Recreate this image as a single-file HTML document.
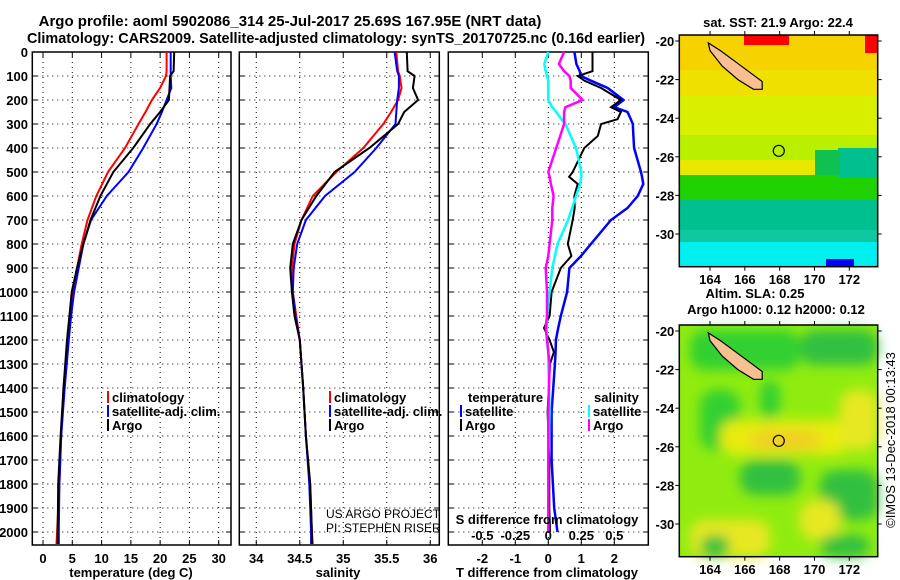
<!DOCTYPE html>
<html><head><meta charset="utf-8"><style>
html,body{margin:0;padding:0;background:#fff;}
svg{display:block;font-family:"Liberation Sans",Arial,sans-serif;}
.b{font-weight:bold;}
</style></head><body>
<svg id="fig" width="900" height="580" viewBox="0 0 900 580" xmlns="http://www.w3.org/2000/svg">
<text x="290" y="26" text-anchor="middle" class="b" font-size="15">Argo profile: aoml 5902086_314 25-Jul-2017 25.69S 167.95E (NRT data)</text>
<text x="336" y="43" text-anchor="middle" class="b" font-size="15" textLength="618" lengthAdjust="spacingAndGlyphs">Climatology: CARS2009. Satellite-adjusted climatology: synTS_20170725.nc (0.16d earlier)</text>
<g id="panels"></g>
<g id="maps"></g>
<text transform="translate(895,440) rotate(-90)" text-anchor="middle" font-size="13">©IMOS 13-Dec-2018 00:13:43</text>
</svg>
<script>
// ---- data ----
const depthT = [0,80,100,150,200,250,300,400,500,600,700,800,900,1000,1100,1200,1400,1600,1800,2000,2050];
const tempClim = [21.1,21.1,21.0,20.0,18.6,17.5,16.3,14.0,11.1,9.1,7.6,6.6,5.8,5.1,4.6,4.2,3.5,3.1,2.8,2.4,2.3];
const tempSat  = [21.8,21.8,21.8,21.9,21.1,20.3,19.4,17.1,14.6,10.9,8.2,6.9,6.1,5.3,4.8,4.4,3.7,3.1,2.8,2.7,2.7];
const tempArgo = [22.4,22.3,21.7,21.6,21.5,20.0,18.3,15.4,12.0,9.8,8.1,6.9,5.8,4.9,4.5,4.1,3.5,3.0,2.6,2.5,2.5];
const salClim = [35.61,35.63,35.65,35.67,35.63,35.55,35.46,35.23,34.92,34.65,34.52,34.44,34.41,34.42,34.46,34.50,34.54,34.57,34.62,34.64,34.65];
const salSat  = [35.59,35.62,35.64,35.64,35.62,35.61,35.60,35.38,35.13,34.79,34.57,34.47,34.43,34.42,34.45,34.50,34.54,34.57,34.61,34.63,34.63];
const salArgo = [35.73,35.74,35.82,35.80,35.86,35.70,35.63,35.30,34.90,34.69,34.52,34.42,34.39,34.41,34.44,34.50,34.54,34.57,34.62,34.64,34.64];
const depthD = [0,50,80,100,120,150,200,230,250,280,300,350,400,500,520,550,600,650,700,800,850,900,1000,1100,1150,1200,1250,1300,1500,1700,1900,2000];
const dTsat  = [0.79,0.85,0.95,0.99,1.3,1.8,2.28,2.0,2.4,2.5,2.56,2.58,2.6,2.81,2.84,2.88,2.71,2.4,1.9,1.29,0.99,0.64,0.57,0.38,0.3,0.23,0.22,0.2,0.1,0.1,0.18,0.28];
const dTargo = [1.34,1.34,1.34,0.89,1.1,1.6,2.2,1.9,2.2,2.1,1.6,1.5,1.09,0.74,0.63,0.89,0.79,0.8,0.74,0.59,0.7,0.38,0.1,0.04,-0.13,0.04,0.17,0.05,-0.02,0.03,0.03,0.05];
const dSsat  = [0.0,-0.03,-0.02,-0.01,0.0,0.0,0.0,0.03,0.06,0.1,0.13,0.17,0.21,0.25,0.25,0.24,0.21,0.18,0.15,0.07,0.05,0.03,0.01,-0.01,-0.01,-0.01,0.0,0.0,0.01,0.0,0.0,0.0];
const dSargo = [0.12,0.08,0.12,0.16,0.17,0.17,0.26,0.13,0.12,0.12,0.12,0.09,0.06,0.0,0.01,0.02,0.04,0.03,0.03,0.01,0.0,-0.02,-0.01,-0.01,-0.02,-0.01,0.0,0.01,0.0,0.0,0.0,0.0];
const depthTicks = [0,100,200,300,400,500,600,700,800,900,1000,1100,1200,1300,1400,1500,1600,1700,1800,1900,2000];
const tTicks = [0,5,10,15,20,25,30];
const sTicks = [34,34.5,35,35.5,36];
const sTickLabels = ["34","34.5","35","35.5","36"];
const dTTicks = [-2,-1,0,1,2];
const dSTicks = [-0.5,-0.25,0,0.25,0.5];
const dSTickLabels = ["-0.5","-0.25","0","0.25","0.5"];
const latTicks = [-20,-22,-24,-26,-28,-30];
const lonTicks = [164,166,168,170,172];
const argoLon = 167.95, argoLat = -25.69;

const NS="http://www.w3.org/2000/svg";
function mk(tag, attrs, parent){const e=document.createElementNS(NS,tag);for(const k in attrs)e.setAttribute(k,attrs[k]);parent.appendChild(e);return e;}
const panels=document.getElementById('panels');
const Y0=52, PY=0.24, BOT=545;
function yD(d){return Y0+d*PY;}

function panel(name,x0,x1,xmin,xmax,ticks,labels){
  const g=mk('g',{},panels);
  
  
  const sx=v=>x0+(v-xmin)/(xmax-xmin)*(x1-x0);
  for(const d of depthTicks){ if(d===0) continue;
    const l=mk('line',{x1:x0,x2:x1,y1:yD(d),y2:yD(d),stroke:'#000','stroke-dasharray':'1 4','stroke-width':1},g);
    
    
    mk('line',{x1:x0,x2:x0+5,y1:yD(d),y2:yD(d),stroke:'#000'},g);
    mk('line',{x1:x1-5,x2:x1,y1:yD(d),y2:yD(d),stroke:'#000'},g);
  }
  ticks.forEach((v,i)=>{
    const x=sx(v);
    const l=mk('line',{x1:x,x2:x,y1:Y0,y2:BOT,stroke:'#000','stroke-dasharray':'1 4'},g);
    
    
    mk('line',{x1:x,x2:x,y1:Y0,y2:Y0+5,stroke:'#000'},g);
    mk('line',{x1:x,x2:x,y1:BOT-5,y2:BOT,stroke:'#000'},g);
    if(labels){const t=mk('text',{x:x,y:563,'text-anchor':'middle','font-size':13,'font-weight':'bold'},g);t.textContent=labels[i];
      
      }
  });
  const r=mk('rect',{x:x0,y:Y0,width:x1-x0,height:BOT-Y0,fill:'none',stroke:'#000','stroke-width':1.5},g);
  
  
  return {g,sx};
}
function line(p,xs,ds,color,name,w){
  const pts=xs.map((v,i)=>p.sx(v).toFixed(1)+','+yD(ds[i]).toFixed(1)).join(' ');
  const l=mk('polyline',{points:pts,fill:'none',stroke:color,'stroke-width':w||2},p.g);
  
  
}
function txt(parent,x,y,s,opts){const t=mk('text',Object.assign({x:x,y:y,'font-size':13,'font-weight':'bold'},opts||{}),parent);t.textContent=s;return t;}

const yl=mk('g',{},panels);


for(const d of depthTicks){txt(yl,28,yD(d)+5,String(d),{'text-anchor':'end'});}

const p1=panel('temperature-panel',32.3,231,-1.83,32.1,tTicks,tTicks.map(String));
line(p1,tempClim,depthT,'#f00','temp-climatology-line');
line(p1,tempSat,depthT,'#00f','temp-satellite-line');
line(p1,tempArgo,depthT,'#000','temp-argo-line');
let t=txt(p1.g,131,577,'temperature (deg C)',{'text-anchor':'middle'});



const p2=panel('salinity-panel',239.3,439.3,33.805,36.104,sTicks,sTickLabels);
line(p2,salClim,depthT,'#f00','sal-climatology-line');
line(p2,salSat,depthT,'#00f','sal-satellite-line');
line(p2,salArgo,depthT,'#000','sal-argo-line');
t=txt(p2.g,338,577,'salinity',{'text-anchor':'middle'});



function legend(g,x,y,color,label,name){
  const e=mk('g',{},g);
  
  
  mk('rect',{x:x,y:y-11,width:2,height:12,fill:color},e);
  txt(e,x+5,y,label);
}
[[p1.g,107],[p2.g,329]].forEach(([g,x])=>{
  legend(g,x,402,'#f00','climatology','legend-climatology');
  legend(g,x,416,'#00f','satellite-adj. clim.','legend-satellite-adj');
  legend(g,x,430,'#000','Argo','legend-argo');
});
const clip=mk('clipPath',{id:'c2'},p2.g);mk('rect',{x:239,y:52,width:200,height:493},clip);
t=txt(p2.g,326,518,'US ARGO PROJECT',{'font-weight':'normal','font-size':12,'clip-path':'url(#c2)'});


t=txt(p2.g,326,532,'PI: STEPHEN RISER',{'font-weight':'normal','font-size':12,'clip-path':'url(#c2)'});



const p3=panel('difference-panel',448.3,648.3,-3.03,3.03,dTTicks,dTTicks.map(String));
const sS=v=>p3.sx(v*4);
line(p3,dTsat,depthD,'#00f','tdiff-satellite-line',2.5);
line(p3,dTargo,depthD,'#000','tdiff-argo-line',2);
line(p3,dSsat.map(v=>v*4),depthD,'#0ff','sdiff-satellite-line',2.5);
line(p3,dSargo.map(v=>v*4),depthD,'#f0f','sdiff-argo-line',2.5);
t=txt(p3.g,468,402,'temperature');
t=txt(p3.g,594,402,'salinity');
legend(p3.g,460,416,'#00f','satellite','legend-tdiff-satellite');
legend(p3.g,460,430,'#000','Argo','legend-tdiff-argo');
legend(p3.g,588,416,'#0ff','satellite','legend-sdiff-satellite');
legend(p3.g,588,430,'#f0f','Argo','legend-sdiff-argo');
t=txt(p3.g,547,524,'S difference from climatology',{'text-anchor':'middle'});

dSTicks.forEach((v,i)=>{const e=txt(p3.g,sS(v),540,dSTickLabels[i],{'text-anchor':'middle'});
  
  });
t=txt(p3.g,547,577,'T difference from climatology',{'text-anchor':'middle'});


// ---- maps ----
const maps=document.getElementById('maps');
function map(name,x0,x1,y0,y1,latY20,latY30,titleLines,bottomY){
  const g=mk('g',{},maps);
  
  
  const pxLon=(849.3-710)/8;
  const lx=lon=>710+(lon-164)*pxLon;
  const ly=lat=>latY20+(-20-lat)*(latY30-latY20)/10;
  return {g,lx,ly,x0,x1,y0,y1,finish(){
    const r=mk('rect',{x:x0,y:y0,width:x1-x0,height:y1-y0,fill:'none',stroke:'#000','stroke-width':1.5},g);
    
    latTicks.forEach(v=>{const y=ly(v);mk('line',{x1:x0-4,x2:x0,y1:y,y2:y,stroke:'#000'},g);mk('line',{x1:x1,x2:x1+4,y1:y,y2:y,stroke:'#000'},g);
      const e=txt(g,x0-5,y+5,String(v),{'text-anchor':'end'});});
    lonTicks.forEach(v=>{const x=lx(v);mk('line',{x1:x,x2:x,y1:y0-4,y2:y0,stroke:'#000'},g);mk('line',{x1:x,x2:x,y1:y1,y2:y1+4,stroke:'#000'},g);
      const e=txt(g,x,bottomY,String(v),{'text-anchor':'middle'});});
    const isl=mk('polygon',{points:[[163.9,-20.1],[164.6,-20.5],[165.5,-21.1],[166.4,-21.7],[167.0,-22.1],[167.0,-22.5],[166.5,-22.5],[165.6,-22.0],[164.7,-21.3],[164.0,-20.5]].map(p=>lx(p[0]).toFixed(1)+','+ly(p[1]).toFixed(1)).join(' '),fill:'#f8c090',stroke:'#000','stroke-width':1.2},g);
    
    const c=mk('circle',{cx:lx(argoLon),cy:ly(argoLat),r:5.5,fill:'none',stroke:'#000','stroke-width':1.2},g);
    
    titleLines.forEach(([s,x,y])=>{const e=txt(g,x,y,s,{'text-anchor':'middle'});});
  }};
}
const m1=map('sst-map',679.3,877.7,35,266.7,41,234,[['sat. SST: 21.9 Argo: 22.4',778,27]],284);
[['#f5d200',35,70],['#f0e000',70,95],['#d8f000',95,135],['#b8f000',135,160],['#e8e800',160,175],['#20d000',175,200],['#00c090',200,230],['#10c8a0',230,242],['#00f0f0',242,267]].forEach(([c,a,b])=>{
  mk('rect',{x:679.3,y:a,width:198.4,height:b-a,fill:c},m1.g);});
mk('rect',{x:838,y:148,width:40,height:30,fill:'#00c090'},m1.g);
mk('rect',{x:815,y:150,width:25,height:25,fill:'#10c050'},m1.g);
mk('rect',{x:744,y:35,width:45,height:10,fill:'#f00'},m1.g);
mk('rect',{x:865,y:35,width:13,height:18,fill:'#f00'},m1.g);
mk('rect',{x:826,y:259,width:28,height:8,fill:'#00f'},m1.g);
m1.finish();
const m2=map('sla-map',679.3,877.7,325,556.7,331,524,[['Altim. SLA: 0.25',755,298],['Argo h1000: 0.12 h2000: 0.12',776,314]],574);
const df=mk('defs',{},m2.g);const f=mk('filter',{id:'blur'},df);mk('feGaussianBlur',{stdDeviation:6},f);
mk('rect',{x:679.3,y:325,width:198.4,height:231.7,fill:'#90ec10'},m2.g);
const bl=mk('g',{filter:'url(#blur)'},m2.g);
[['#30d030',690,330,110,40],['#30d030',760,380,20,40],['#30d030',700,390,40,60],['#e8ec10',720,420,130,35],['#f0d020',750,430,70,20],['#30c040',740,460,60,35],['#30c040',820,470,58,50],['#e8e820',840,390,38,60],['#30c040',800,330,78,35],['#e8e820',690,520,80,37],['#30c040',700,535,30,22],['#e8e820',800,500,40,40],['#30c040',820,535,50,22]].forEach(([c,x,y,w,h])=>{
  mk('rect',{x:x,y:y,width:w,height:h,rx:15,fill:c},bl);});
m2.finish();
</script>
</body></html>
